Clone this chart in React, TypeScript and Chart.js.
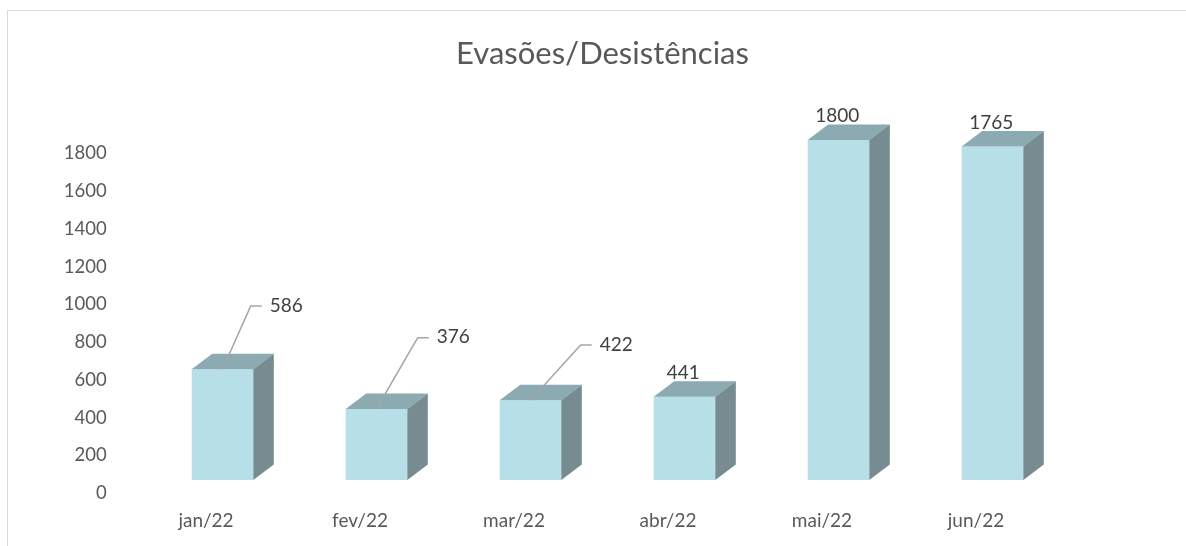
import React, { useEffect, useRef } from 'react';
import { Chart, registerables } from 'chart.js';

Chart.register(...registerables);

// ---- data ----
const categories: string[] = ['jan/22', 'fev/22', 'mar/22', 'abr/22', 'mai/22', 'jun/22'];
const values: number[] = [586, 376, 422, 441, 1800, 1765];
const yTickValues: number[] = [0, 200, 400, 600, 800, 1000, 1200, 1400, 1600, 1800];
const titleText = 'Evasões/Desistências';

// ---- label placement (pixel offsets from the default label spot; null = default, no leader) ----
const labelOffsets: ([number, number] | null)[] = [[65, -40], [78, -48], [87, -32], null, null, null];

// ---- styles ----
const FONT = 'Lato, "Open Sans", sans-serif';
const TEXT = '#595959';
const LABEL = '#404040';
const FRONT = 'rgb(183,223,232)';
const TOP = 'rgb(139,170,178)';
const SIDE = 'rgb(118,140,145)';
const LEADER = '#A6A6A6';
const SHIFT_X = 16.5;
const SHIFT_Y = -13.3;
const DEPTH_X = 20.5;
const DEPTH_Y = 15.5;
const TITLE_X = 602.5;
const TITLE_Y = 53.5;

const titlePlugin = {
  id: 'customTitle',
  afterDraw(chart: any) {
    const ctx: CanvasRenderingContext2D = chart.ctx;
    ctx.save();
    ctx.font = `31px ${FONT}`;
    ctx.fillStyle = TEXT;
    ctx.textAlign = 'center';
    ctx.textBaseline = 'middle';
    ctx.fillText(titleText, TITLE_X, TITLE_Y);
    ctx.restore();
  },
};

const bar3d = {
  id: 'bar3d',
  beforeDatasetsDraw(chart: any) {
    chart.ctx.save();
    chart.ctx.translate(SHIFT_X, SHIFT_Y);
  },
  afterDatasetsDraw(chart: any) {
    const ctx: CanvasRenderingContext2D = chart.ctx;
    const meta = chart.getDatasetMeta(0);
    meta.data.forEach((el: any, i: number) => {
      const { x, y, base, width } = el.getProps(['x', 'y', 'base', 'width'], true);
      const l = x - width / 2;
      const r = x + width / 2;
      // top face
      ctx.fillStyle = TOP;
      ctx.beginPath();
      ctx.moveTo(l, y);
      ctx.lineTo(r, y);
      ctx.lineTo(r + DEPTH_X, y - DEPTH_Y);
      ctx.lineTo(l + DEPTH_X, y - DEPTH_Y);
      ctx.closePath();
      ctx.fill();
      // side face
      ctx.fillStyle = SIDE;
      ctx.beginPath();
      ctx.moveTo(r, y);
      ctx.lineTo(r + DEPTH_X, y - DEPTH_Y);
      ctx.lineTo(r + DEPTH_X, base - DEPTH_Y);
      ctx.lineTo(r, base);
      ctx.closePath();
      ctx.fill();

      // data label
      const text = String(values[i]);
      ctx.font = `19px ${FONT}`;
      const tw = ctx.measureText(text).width;
      let lx = x - 1.3;
      let ly = y - DEPTH_Y - 8.2;
      const off = labelOffsets[i];
      if (off) {
        lx += off[0];
        ly += off[1];
        const left = lx - tw / 2;
        ctx.strokeStyle = LEADER;
        ctx.lineWidth = 1.5;
        ctx.beginPath();
        ctx.moveTo(x, y);
        ctx.lineTo(left - 19, ly + 0.5);
        ctx.lineTo(left - 8, ly + 0.5);
        ctx.stroke();
      }
      ctx.fillStyle = LABEL;
      ctx.textAlign = 'center';
      ctx.textBaseline = 'middle';
      ctx.fillText(text, lx, ly);
    });
    ctx.restore();
  },
};

export default function App() {
  const ref = useRef<HTMLCanvasElement | null>(null);

  useEffect(() => {
    if (!ref.current) return;
    const chart = new Chart(ref.current, {
      type: 'bar',
      data: {
        labels: categories,
        datasets: [
          {
            data: values,
            backgroundColor: FRONT,
            borderWidth: 0,
            barPercentage: 0.4,
            categoryPercentage: 1,
            clip: false as any,
          },
        ],
      },
      options: {
        responsive: false,
        animation: false,
        layout: { padding: { left: 0, right: 133, top: 153.3, bottom: 0 } },
        plugins: {
          legend: { display: false },
          tooltip: { enabled: false },
          title: { display: false },
        },
        scales: {
          x: {
            grid: { display: false, drawTicks: false },
            border: { display: false },
            ticks: { color: TEXT, font: { family: FONT, size: 19 }, padding: 16 },
            afterFit: (s: any) => {
              s.height = 52.7;
            },
          },
          y: {
            min: 0,
            max: 1800,
            afterBuildTicks: (s: any) => {
              s.ticks = yTickValues.map((v) => ({ value: v }));
            },
            grid: { display: false, drawTicks: false },
            border: { display: false },
            ticks: {
              color: TEXT,
              font: { family: FONT, size: 18.5 },
              padding: 22.3,
              callback: (v: any) => String(v),
            },
            afterFit: (s: any) => {
              s.width = 129;
            },
          },
        },
      },
      plugins: [bar3d, titlePlugin],
    });
    return () => chart.destroy();
  }, []);

  return (
    <div style={{ position: 'fixed', left: 0, top: 0, width: 1186, height: 546, background: '#fff', overflow: 'hidden' }}>
      <div
        style={{
          position: 'absolute',
          left: 7,
          top: 10,
          width: 1200,
          height: 600,
          borderTop: '1px solid #D9D9D9',
          borderLeft: '1px solid #D9D9D9',
        }}
      />
      <canvas ref={ref} width={1186} height={546} style={{ position: 'absolute', left: 0, top: 0 }} />
    </div>
  );
}
